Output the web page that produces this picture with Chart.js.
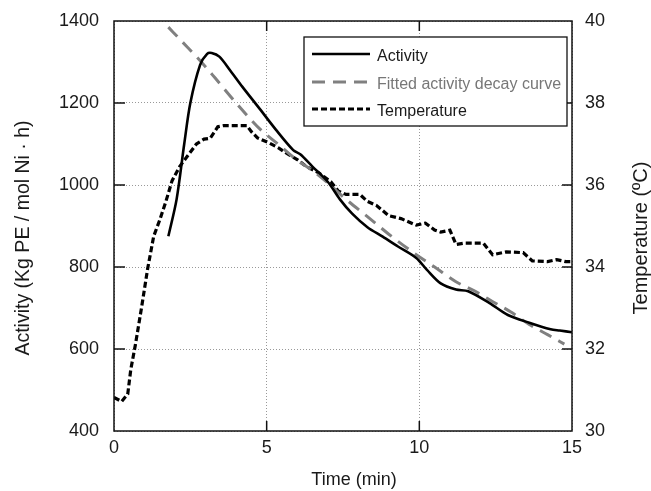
<!DOCTYPE html>
<html>
<head>
<meta charset="utf-8">
<script src="https://cdn.jsdelivr.net/npm/chart.js@4.4.1/dist/chart.umd.min.js"></script>
<style>
  html, body { margin: 0; padding: 0; background: #fff; }
  #wrap { width: 651px; height: 491px; }
</style>
</head>
<body>
<div id="wrap"><canvas id="chart"></canvas></div>
<script>
// data
const activityTime   = [1.78, 2.05, 2.3, 2.5, 2.82, 3.05, 3.2, 3.45, 3.8, 4.2, 4.78, 5.3, 5.87, 6.1, 6.5, 7.0, 7.4, 7.8, 8.3, 8.8, 9.3, 9.9, 10.25, 10.7, 11.2, 11.6, 12.3, 12.9, 13.6, 14.3, 14.6, 15.0];
const activityValues = [875, 965, 1100, 1200, 1293, 1320, 1322, 1313, 1280, 1240, 1185, 1135, 1085, 1075, 1045, 1008, 965, 930, 897, 874, 850, 822, 793, 760, 745, 741, 712, 683, 664, 648, 645, 641];

const fitTime   = [1.78, 2.2, 2.8, 3.3, 4.0, 4.8, 5.4, 5.9, 6.5, 7.0, 7.6, 8.3, 9.0, 9.9, 10.5, 11.2, 11.8, 12.3, 13.0, 13.6, 14.2, 14.75];
const fitValues = [1385, 1352, 1305, 1262, 1200, 1135, 1098, 1066, 1035, 1005, 965, 923, 880, 830, 800, 764, 742, 720, 690, 660, 635, 612];

const tempTime   = [0.0, 0.25, 0.45, 0.55, 0.7, 0.9, 1.1, 1.3, 1.5, 1.7, 1.9, 2.15, 2.4, 2.7, 2.95, 3.15, 3.4, 3.6, 4.35, 4.5, 4.7, 5.1, 5.4, 5.7, 6.0, 6.3, 6.7, 7.1, 7.35, 7.6, 8.05, 8.3, 8.6, 9.0, 9.4, 9.9, 10.2, 10.5, 10.7, 11.0, 11.2, 11.45, 12.1, 12.4, 12.85, 13.4, 13.7, 14.2, 14.5, 14.8, 15.0];
const tempValues = [30.82, 30.72, 30.9, 31.5, 32.1, 33.0, 33.95, 34.75, 35.15, 35.6, 36.1, 36.45, 36.7, 37.0, 37.12, 37.14, 37.42, 37.45, 37.45, 37.3, 37.15, 37.02, 36.9, 36.75, 36.62, 36.45, 36.3, 36.08, 35.85, 35.77, 35.77, 35.6, 35.5, 35.25, 35.18, 35.02, 35.07, 34.9, 34.85, 34.9, 34.55, 34.58, 34.58, 34.3, 34.37, 34.35, 34.15, 34.13, 34.18, 34.13, 34.13];

const xTicks = [0, 5, 10, 15];
const yTicks = [400, 600, 800, 1000, 1200, 1400];
const y1Ticks = [30, 32, 34, 36, 38, 40];

const seriesNames = ['Activity', 'Fitted activity decay curve', 'Temperature'];

const FONT = "'Liberation Sans', Arial, sans-serif";
const TXT = '#1a1a1a';

const pts = (xs, ys) => xs.map((x, i) => ({ x: x, y: ys[i] }));
const setTicks = list => scale => { scale.ticks = list.map(v => ({ value: v })); };
const plain = v => String(v);
// fixed side width, and no extra top/bottom room reserved for the labels
const sideFit = w => s => { s.width = w; s.paddingTop = 0; s.paddingBottom = 0; };

// frame, inward tick marks, boxed legend, axis titles
const decor = {
    id: 'decor',
    afterDatasetsDraw(chart) {
        const { ctx, chartArea: a, scales } = chart;
        ctx.save();
        ctx.strokeStyle = '#111';
        ctx.lineWidth = 1.5;
        ctx.setLineDash([]);
        ctx.strokeRect(a.left, a.top, a.right - a.left, a.bottom - a.top);

        ctx.beginPath();
        xTicks.slice(1, -1).forEach(v => {
            const px = scales.x.getPixelForValue(v);
            ctx.moveTo(px, a.bottom); ctx.lineTo(px, a.bottom - 10);
            ctx.moveTo(px, a.top); ctx.lineTo(px, a.top + 10);
        });
        yTicks.slice(1, -1).forEach(v => {
            const py = scales.y.getPixelForValue(v);
            ctx.moveTo(a.left, py); ctx.lineTo(a.left + 11, py);
        });
        y1Ticks.slice(1, -1).forEach(v => {
            const py = scales.y1.getPixelForValue(v);
            ctx.moveTo(a.right, py); ctx.lineTo(a.right - 10, py);
        });
        ctx.stroke();

        // legend box
        const bx = a.right - 268, by = a.top + 16, bw = 263, bh = 89;
        ctx.fillStyle = '#fff';
        ctx.fillRect(bx, by, bw, bh);
        ctx.lineWidth = 1.3;
        ctx.strokeRect(bx, by, bw, bh);
        const rows = [33, 61, 88];
        chart.data.datasets.forEach((ds, i) => {
            const ly = by + rows[i] - 16;
            ctx.beginPath();
            ctx.strokeStyle = ds.borderColor;
            ctx.lineWidth = ds.borderWidth;
            ctx.setLineDash(ds.borderDash || []);
            ctx.moveTo(bx + 8, ly);
            ctx.lineTo(bx + 66, ly);
            ctx.stroke();
            ctx.setLineDash([]);
            ctx.fillStyle = i === 1 ? '#777' : TXT;
            ctx.font = '16px ' + FONT;
            ctx.textBaseline = 'middle';
            ctx.textAlign = 'left';
            ctx.fillText(seriesNames[i], bx + 73, ly + 3);
        });

        ctx.fillStyle = TXT;
        ctx.textAlign = 'center';
        ctx.textBaseline = 'middle';
        // bottom title
        ctx.font = '18px ' + FONT;
        ctx.fillText('Time (min)', (a.left + a.right) / 2 + 11, a.bottom + 49);
        // side titles, both reading bottom to top
        const midY = (a.top + a.bottom) / 2 + 12;
        ctx.save();
        ctx.translate(24, midY);
        ctx.rotate(-Math.PI / 2);
        ctx.font = '19.5px ' + FONT;
        ctx.fillText('Activity (Kg PE / mol Ni · h)', 0, 0);
        ctx.restore();
        ctx.save();
        ctx.translate(641, midY);
        ctx.rotate(-Math.PI / 2);
        ctx.font = '20px ' + FONT;
        ctx.fillText('Temperature (ºC)', 0, 0);
        ctx.restore();
        ctx.restore();
    }
};

new Chart(document.getElementById('chart'), {
    type: 'line',
    data: {
        datasets: [
            {
                label: seriesNames[0],
                data: pts(activityTime, activityValues),
                yAxisID: 'y',
                borderColor: '#000',
                borderWidth: 2.6,
                tension: 0.3,
                pointRadius: 0,
                fill: false
            },
            {
                label: seriesNames[1],
                data: pts(fitTime, fitValues),
                yAxisID: 'y',
                borderColor: '#808080',
                borderWidth: 3,
                borderDash: [13, 8],
                cubicInterpolationMode: 'monotone',
                pointRadius: 0,
                fill: false
            },
            {
                label: seriesNames[2],
                data: pts(tempTime, tempValues),
                yAxisID: 'y1',
                borderColor: '#000',
                borderWidth: 3.2,
                borderDash: [6, 3],
                tension: 0,
                pointRadius: 0,
                fill: false
            }
        ]
    },
    options: {
        responsive: true,
        maintainAspectRatio: false,
        animation: false,
        layout: { padding: { top: 21, left: 0, right: 0, bottom: 0 } },
        plugins: {
            legend: { display: false },
            tooltip: { enabled: false }
        },
        scales: {
            x: {
                type: 'linear',
                min: 0,
                max: 15,
                afterBuildTicks: setTicks(xTicks),
                afterFit: s => { s.height = 60; s.paddingLeft = 0; s.paddingRight = 0; },
                grid: { color: '#999', lineWidth: 1, drawTicks: false },
                border: { display: false, dash: [1, 2] },
                ticks: { padding: 6, color: TXT, font: { family: FONT, size: 18 }, callback: plain }
            },
            y: {
                position: 'left',
                min: 400,
                max: 1400,
                afterBuildTicks: setTicks(yTicks),
                afterFit: sideFit(114),
                grid: { color: '#999', lineWidth: 1, drawTicks: false },
                border: { display: false, dash: [1, 2] },
                ticks: { padding: 15, color: TXT, font: { family: FONT, size: 18 }, callback: plain }
            },
            y1: {
                position: 'right',
                min: 30,
                max: 40,
                afterBuildTicks: setTicks(y1Ticks),
                afterFit: sideFit(79),
                grid: { display: false, drawTicks: false },
                border: { display: false },
                ticks: { padding: 13, color: TXT, font: { family: FONT, size: 18 }, callback: plain }
            }
        }
    },
    plugins: [decor]
});
</script>
</body>
</html>
